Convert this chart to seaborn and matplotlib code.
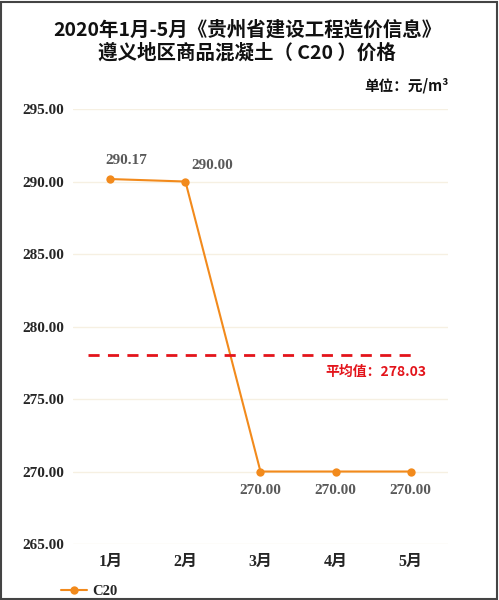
import matplotlib
matplotlib.use("Agg")
import matplotlib.pyplot as plt
import seaborn as sns
import pandas as pd
import numpy as np
from matplotlib.patches import Rectangle
from matplotlib.lines import Line2D

months = ["1月", "2月", "3月", "4月", "5月"]
c20 = [290.17, 290.00, 270.00, 270.00, 270.00]
yticks = [265, 270, 275, 280, 285, 290, 295]
series_name = "C20"

sns.set_theme(style="white")
plt.rcParams['font.family'] = ['Noto Sans CJK SC', 'DejaVu Sans']

df = pd.DataFrame({"month": months, "price": c20})
avg = float(np.mean(c20))

fig = plt.figure(figsize=(4.99, 6.0), dpi=100)
ax = fig.add_axes([0.146, 0.0933, 0.752, 0.725])

orange = "#F28A1C"
sns.lineplot(data=df, x="month", y="price", ax=ax, color=orange, linewidth=1.5,
             marker="o", markersize=6, markeredgewidth=0, sort=False)

ax.set_xlim(-0.5, 4.5)
ax.set_ylim(265, 295)
ax.set_yticks(yticks)
ax.set_yticklabels([f"{v:.2f}" for v in yticks])
ax.set_xticks(range(len(months)))
ax.set_xticklabels(months)
ax.grid(axis="y", color="#F6F0E2", linewidth=1)
ax.set_axisbelow(True)
for s in ax.spines.values():
    s.set_visible(False)
ax.tick_params(axis="both", length=0)
ax.tick_params(axis="y", pad=6)
ax.tick_params(axis="x", pad=7)
serif = ['Liberation Serif', 'Noto Sans CJK SC']
for t in ax.get_yticklabels():
    t.set_fontfamily(serif)
    t.set_fontweight("bold")
    t.set_fontsize(11)
    t.set_color("#262626")
for t in ax.get_xticklabels():
    t.set_fontfamily(serif)
    t.set_fontweight("bold")
    t.set_fontsize(11.5)
    t.set_color("#262626")
ax.set_xlabel("")
ax.set_ylabel("")

# data labels
offsets = [(11.5, 13), (19, 11.5), (0, -13.5), (0, -13.5), (0, -13.5)]
for i, (v, off) in enumerate(zip(c20, offsets)):
    ax.annotate(f"{v:.2f}", (i, v), xytext=off, textcoords="offset points",
                ha="center", va="center", fontsize=11, fontweight="bold",
                color="#595959", family=['Liberation Serif', 'DejaVu Serif'])

# average line
ax.plot([-0.3, 4.0], [avg, avg], color="#E3141B", linewidth=2, linestyle=(0, (4, 3)))
ax.annotate(f"平均值：{avg:.2f}", (3.54, avg), xytext=(0, -12), textcoords="offset points",
            ha="center", va="center", fontsize=10, fontweight="bold", color="#E3141B")

# title
fig.text(0.495, 0.95, "2020年1月-5月《贵州省建设工程造价信息》", ha="center", va="center",
         fontsize=14, fontweight="bold", color="#111111")
fig.text(0.495, 0.912, "遵义地区商品混凝土（ C20 ）价格", ha="center", va="center",
         fontsize=14, fontweight="bold", color="#111111")
fig.text(0.9, 0.857, "单位：元/m³", ha="right", va="center",
         fontsize=10.5, fontweight="bold", color="#111111")

# legend
handle = Line2D([], [], color=orange, marker="o", markersize=6, markeredgewidth=0, linewidth=1.5)
leg = fig.legend([handle], [series_name], loc="center left", bbox_to_anchor=(0.095, 0.015),
                 frameon=False, handlelength=1.8, handletextpad=0.4,
                 prop={"family": ['Liberation Serif'], "weight": "bold", "size": 10.5})

# frame
fig.patches.append(Rectangle((0.002, 0.002), 0.994, 0.994, transform=fig.transFigure,
                             fill=False, edgecolor="#444444", linewidth=1.5))

fig.savefig("out.png", dpi=100)
